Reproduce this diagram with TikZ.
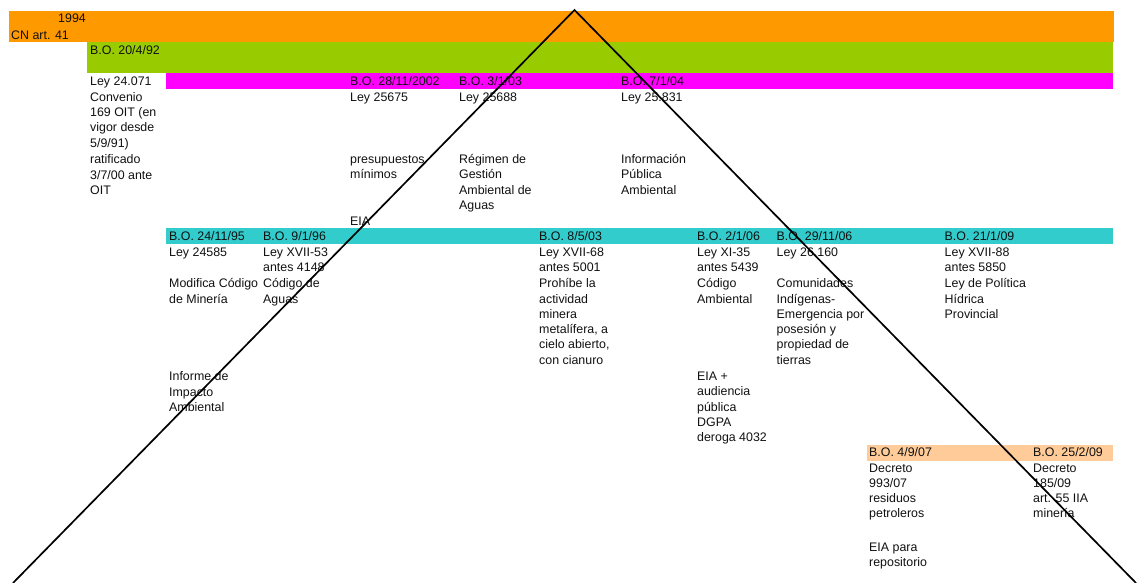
\documentclass[tikz,border=0pt]{standalone}
\usepackage{fontspec}
\setmainfont{Liberation Sans}
\definecolor{barorange}{HTML}{FF9900}
\definecolor{bargreen}{HTML}{99CC00}
\definecolor{barmagenta}{HTML}{FF00FF}
\definecolor{barcyan}{HTML}{33CCCC}
\definecolor{barpeach}{HTML}{FFCC99}
\definecolor{txt}{HTML}{111111}
\newcommand\mlines[1]{\begin{tabular}[t]{@{}l@{}}#1\end{tabular}}
\begin{document}
\begin{tikzpicture}[x=1pt,y=-1pt,
  font=\fontsize{12.4}{15.3}\selectfont,
  lbl/.style={inner sep=0pt, anchor=base west, text=txt},
  lblr/.style={inner sep=0pt, anchor=base east, text=txt},
  tri/.style={draw=black, line width=1.7pt, line join=miter}]
\useasboundingbox (0,0) rectangle (1140,583);
\fill[white] (0,0) rectangle (1140,583);
% bars
\fill[barorange] (9,11) rectangle (1114,42);
\fill[bargreen] (87,42) rectangle (1113,73);
\fill[barmagenta] (166,73) rectangle (1113,89);
\fill[barcyan] (166,228) rectangle (1113,244);
\fill[barpeach] (867,445) rectangle (1113,461);
% orange / green
\node[lblr] (y1994) at (86,23) {1994};
\node[lbl] (cn) at (11,39.5) {CN art. 41};
\node[lbl] (bo92) at (90,54.5) {B.O. 20/4/92};
\node[lbl] (ley24071) at (90,86) {\mlines{Ley 24.071\\Convenio\\169 OIT (en\\vigor desde\\5/9/91)}};
\node[lbl] (ratif) at (90,164) {\mlines{ratificado\\3/7/00 ante\\OIT}};
% magenta row
\node[lbl] (bo2002) at (350,86) {\mlines{B.O. 28/11/2002\\Ley 25675}};
\node[lbl] (presup) at (350,163.5) {\mlines{presupuestos\\mínimos}};
\node[lbl] (eia1) at (350,225) {EIA};
\node[lbl] (bo0103) at (459,86) {\mlines{B.O. 3/1/03\\Ley 25688}};
\node[lbl] (regimen) at (459,163.5) {\mlines{Régimen de\\Gestión\\Ambiental de\\Aguas}};
\node[lbl] (bo0104) at (621,86) {\mlines{B.O. 7/1/04\\Ley 25.831}};
\node[lbl] (info) at (621,163.5) {\mlines{Información\\Pública\\Ambiental}};
% cyan row
\node[lbl] (bo95) at (169,240.7) {\mlines{B.O. 24/11/95\\Ley 24585}};
\node[lbl] (modif) at (169,287.7) {\mlines{Modifica Código\\de Minería}};
\node[lbl] (informe) at (169,380.7) {\mlines{Informe de\\Impacto\\Ambiental}};
\node[lbl] (bo96) at (263,240.7) {\mlines{B.O. 9/1/96\\Ley XVII-53\\antes 4148}};
\node[lbl] (aguas) at (263,287.7) {\mlines{Código de\\Aguas}};
\node[lbl] (bo03) at (539,240.7) {\mlines{B.O. 8/5/03\\Ley XVII-68\\antes 5001}};
\node[lbl] (prohibe) at (539,287.7) {\mlines{Prohíbe la\\actividad\\minera\\metalífera, a\\cielo abierto,\\con cianuro}};
\node[lbl] (bo06) at (697,240.7) {\mlines{B.O. 2/1/06\\Ley XI-35\\antes 5439}};
\node[lbl] (codamb) at (697,287.7) {\mlines{Código\\Ambiental}};
\node[lbl] (eiaaud) at (697,380.5) {\mlines{EIA +\\audiencia\\pública\\DGPA\\deroga 4032}};
\node[lbl] (bo2906) at (776.5,240.7) {\mlines{B.O. 29/11/06\\Ley 26.160}};
\node[lbl] (comun) at (776.5,287.7) {\mlines{Comunidades\\Indígenas-\\Emergencia por\\posesión y\\propiedad de\\tierras}};
\node[lbl] (bo09) at (944.5,240.7) {\mlines{B.O. 21/1/09\\Ley XVII-88\\antes 5850}};
\node[lbl] (politica) at (944.5,287.7) {\mlines{Ley de Política\\Hídrica\\Provincial}};
% peach row
\node[lbl] (bo07) at (869,456.7) {\mlines{B.O. 4/9/07\\Decreto\\993/07\\residuos\\petroleros}};
\node[lbl] (eiarep) at (869,551) {\mlines{EIA para\\repositorio}};
\node[lbl] (bo0209) at (1033,456.7) {\mlines{B.O. 25/2/09\\Decreto\\185/09\\art. 55 IIA\\minería}};
% triangle
\coordinate (apex) at (574.5,10);
\coordinate (leftend) at (13,583);
\coordinate (rightend) at (1136,583);
\draw[tri] (leftend) -- (apex) -- (rightend);
\end{tikzpicture}
\end{document}
